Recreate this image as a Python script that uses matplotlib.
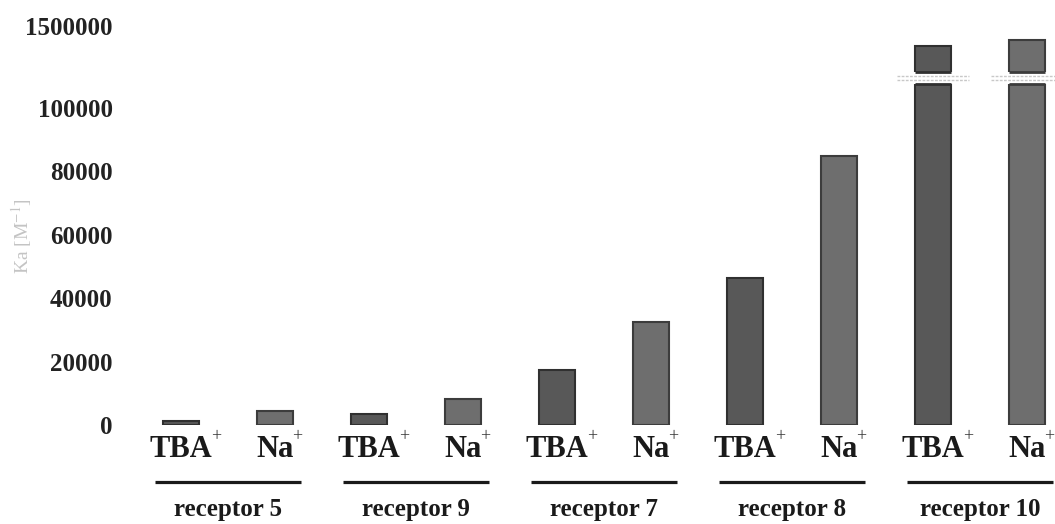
import matplotlib
matplotlib.use('Agg')
import matplotlib.pyplot as plt
import numpy as np
from matplotlib.transforms import blended_transform_factory

plt.rcParams['font.family'] = ['Liberation Serif', 'DejaVu Serif']
plt.rcParams['mathtext.fontset'] = 'stix'

# data
groups = ['receptor 5', 'receptor 9', 'receptor 7', 'receptor 8', 'receptor 10']
cations = ['TBA', 'Na']
tba = [1200, 3600, 17500, 46400, 1457000]
na = [4400, 8200, 32500, 85000, 1470000]
low_ticks = [0, 20000, 40000, 60000, 80000, 100000]
high_ticks = [1500000]

W, H = 1055, 524
fig = plt.figure(figsize=(W / 100, H / 100), dpi=100)

def fx(px):
    return px / W

def fy(py):
    return (H - py) / H

left, right = 125, 1050
# pixel layout: first bar at 181 px, 94 px between bars
x0, step = 181, 94
xlim = ((left - x0) / step, (right - x0) / step)

ax_lo = fig.add_axes([fx(left), fy(425), fx(right - left), (425 - 84) / H])
ax_hi = fig.add_axes([fx(left), fy(72), fx(right - left), (72 - 26) / H])

pos = np.arange(len(groups)) * 2
w = 0.39
tba_col, tba_edge = '#585858', '#303030'
na_col, na_edge = '#6e6e6e', '#3c3c3c'

lo_top = 100000 * (425 - 84) / (425 - 108)
hi_lim = (1400000, 1500000)

for ax in (ax_lo, ax_hi):
    ax.bar(pos, tba, width=w, color=tba_col, edgecolor=tba_edge, linewidth=1.5)
    ax.bar(pos + 1, na, width=w, color=na_col, edgecolor=na_edge, linewidth=1.5)
    ax.set_xlim(*xlim)
    for s in ax.spines.values():
        s.set_visible(False)
    ax.set_xticks([])
    ax.tick_params(axis='y', length=0, pad=9, labelsize=18, labelcolor='#222222')

ax_lo.set_ylim(0, lo_top)
ax_lo.set_yticks(low_ticks)
ax_lo.set_yticklabels([str(t) for t in low_ticks], fontweight='bold')
ax_hi.set_ylim(*hi_lim)
ax_hi.set_yticks(high_ticks)
ax_hi.set_yticklabels([str(t) for t in high_ticks], fontweight='bold')

# edges where the broken bars are cut
tr = blended_transform_factory(ax_lo.transData, fig.transFigure)
for vals, off, ec in ((tba, 0, tba_edge), (na, 1, na_edge)):
    for p, v in zip(pos, vals):
        if v > lo_top:
            ax_lo.hlines(lo_top, p + off - w / 2, p + off + w / 2, color=ec, lw=2, clip_on=False)
            ax_hi.hlines(hi_lim[0], p + off - w / 2, p + off + w / 2, color=ec, lw=2, clip_on=False)
            for yy in (75.5, 80):
                ax_lo.plot([p + off - w / 2 - 0.19, p + off + w / 2 + 0.19], [fy(yy), fy(yy)],
                           color='#c8c8c8', lw=1, ls=(0, (2, 1)), transform=tr, clip_on=False)

# cation labels and group underlines
for i, g in enumerate(groups):
    for j, c in enumerate(cations):
        t = ax_lo.text(pos[i] + j, fy(457), c, transform=tr, ha='center', va='baseline',
                       fontsize=22, fontweight='bold', color='#1a1a1a')
        ax_lo.annotate('+', xy=(1.0, 1.0), xycoords=t, xytext=(-1, 5),
                       textcoords='offset points', ha='left', va='top',
                       fontsize=13, color='#333333')
    c = pos[i] + 0.5
    ax_lo.plot([c - 0.78, c + 0.78], [fy(482), fy(482)], color='#1a1a1a', lw=2.3,
               transform=tr, clip_on=False, solid_capstyle='butt')
    ax_lo.text(c, fy(516), g, transform=tr, ha='center', va='baseline',
               fontsize=18, fontweight='bold', color='#1a1a1a')

fig.text(fx(22), fy(236), 'Ka [M$^{-1}$]', rotation=90, ha='center', va='center',
         fontsize=14, color='#c4c4c4')

fig.savefig('out.png', dpi=100)
